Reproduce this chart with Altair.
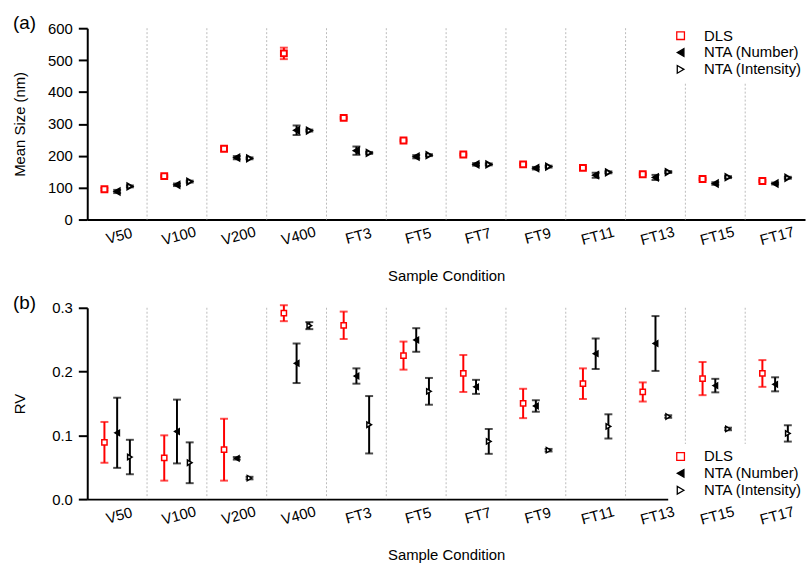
import altair as alt
import pandas as pd

categories = ["V50", "V100", "V200", "V400", "FT3", "FT5", "FT7", "FT9",
              "FT11", "FT13", "FT15", "FT17"]
series = ["DLS", "NTA (Number)", "NTA (Intensity)"]

# Panel (a): mean size (nm) and half error bars
dls_size = [95, 136, 222, 521, 319, 248, 204, 173, 162, 142, 127, 121]
dls_size_err = [4, 3, 6, 18, 3, 3, 3, 3, 3, 3, 3, 3]
num_size = [88, 109, 194, 280, 216, 197, 173, 161, 139, 132, 113, 113]
num_size_err = [5, 4, 5, 15, 13, 5, 4, 4, 8, 8, 4, 3]
int_size = [104, 119, 192, 279, 209, 202, 173, 166, 148, 149, 133, 131]
int_size_err = [3, 3, 3, 3, 3, 3, 3, 3, 3, 3, 3, 3]

# Panel (b): RV and half error bars
dls_rv = [0.089, 0.0645, 0.0775, 0.2915, 0.2725, 0.225, 0.197, 0.150, 0.181, 0.168, 0.189, 0.197]
dls_rv_err = [0.032, 0.0355, 0.0485, 0.0125, 0.0215, 0.022, 0.029, 0.023, 0.024, 0.015, 0.026, 0.021]
num_rv = [0.104, 0.106, 0.064, 0.213, 0.193, 0.2495, 0.176, 0.146, 0.228, 0.244, 0.178, 0.180]
num_rv_err = [0.055, 0.050, 0.002, 0.031, 0.012, 0.0185, 0.011, 0.009, 0.024, 0.043, 0.0106, 0.011]
int_rv = [0.066, 0.057, 0.033, 0.272, 0.1166, 0.169, 0.0905, 0.0767, 0.114, 0.1295, 0.110, 0.103]
int_rv_err = [0.027, 0.032, 0.002, 0.0055, 0.045, 0.021, 0.0195, 0.002, 0.019, 0.002, 0.002, 0.0128]

stroke_colors = ["#ff0000", "#000000", "#000000"]
fill_colors = ["#ffffff", "#000000", "#ffffff"]
shapes = ["square", "triangle-left", "triangle-right"]

W, H = 724, 193
FONT = "Liberation Sans"


def long_df(vals, errs):
    rows = []
    for s, v, e in zip(series, vals, errs):
        for c, vv, ee in zip(categories, v, e):
            rows.append({"cat": c, "series": s, "v": vv, "lo": vv - ee, "hi": vv + ee})
    return pd.DataFrame(rows)


df_a = long_df([dls_size, num_size, int_size], [dls_size_err, num_size_err, int_size_err])
df_b = long_df([dls_rv, num_rv, int_rv], [dls_rv_err, num_rv_err, int_rv_err])
sep_df = pd.DataFrame({"cat": categories[1:]})


def panel(df, ymax, yvals, yfmt, ytitle, tag, leg, msize, mstroke):
    xscale = alt.Scale(domain=categories, paddingInner=0, paddingOuter=0)
    xaxis = alt.Axis(title="Sample Condition", labelAngle=345, ticks=False, tickSize=0,
                     labelAlign="center", labelBaseline="middle", labelPadding=16,
                     labelOffset=2, domainWidth=2, domainColor="black",
                     titleX=W / 2, titleY=49, titleBaseline="top", grid=False)
    x = alt.X("cat:N", sort=categories, scale=xscale, axis=xaxis)
    xo = alt.XOffset("series:N", sort=series,
                     scale=alt.Scale(domain=series, paddingInner=0, paddingOuter=0.85))
    yscale = alt.Scale(domain=[0, ymax], nice=False, zero=True)
    yaxis = alt.Axis(values=yvals, format=yfmt, title=ytitle, tickSize=9, tickWidth=2,
                     tickColor="black", domainWidth=2, domainColor="black",
                     labelPadding=6, grid=False, titleX=-60, titleY=H / 2)
    col = alt.condition(alt.datum.series == "DLS", alt.value("#ff0000"), alt.value("#000000"))

    base = alt.Chart(df)
    sep = alt.Chart(sep_df).mark_rule(color="#bbbbbb", strokeDash=[2, 2], strokeWidth=1).encode(
        x=alt.X("cat:N", sort=categories, scale=xscale, axis=xaxis, bandPosition=0),
        y=alt.value(0), y2=alt.value(H))
    rules = base.mark_rule(strokeWidth=2).encode(
        x=x, xOffset=xo, y=alt.Y("lo:Q", scale=yscale, axis=yaxis), y2="hi:Q", color=col)
    tlo = base.mark_tick(orient="horizontal", size=8, thickness=2).encode(
        x=x, xOffset=xo, y=alt.Y("lo:Q", scale=yscale, axis=yaxis), color=col)
    thi = base.mark_tick(orient="horizontal", size=8, thickness=2).encode(
        x=x, xOffset=xo, y=alt.Y("hi:Q", scale=yscale, axis=yaxis), color=col)
    pts = base.mark_point(size=msize, strokeWidth=mstroke, opacity=1, fillOpacity=1).encode(
        x=x, xOffset=xo, y=alt.Y("v:Q", scale=yscale, axis=yaxis),
        stroke=alt.Stroke("series:N", scale=alt.Scale(domain=series, range=stroke_colors), legend=leg),
        fill=alt.Fill("series:N", scale=alt.Scale(domain=series, range=fill_colors), legend=leg),
        shape=alt.Shape("series:N", scale=alt.Scale(domain=series, range=shapes), legend=leg))
    lab = alt.Chart(pd.DataFrame({"t": [tag]})).mark_text(
        fontSize=19, font=FONT, align="left", baseline="middle", color="black").encode(
        text="t:N", x=alt.value(-75), y=alt.value(-5))
    return alt.layer(sep, rules, tlo, thi, pts, lab).properties(width=W, height=H)


leg_common = dict(title=None, fillColor="white", padding=5, symbolSize=60, symbolStrokeWidth=1.3,
                  labelFontSize=15, labelOffset=16, rowPadding=1, labelFont=FONT, labelColor="black")
leg_a = alt.Legend(orient="none", legendX=586, legendY=-5, **leg_common)
leg_b = alt.Legend(orient="none", legendX=586, legendY=137.5, **leg_common)

top = panel(df_a, 600, [0, 100, 200, 300, 400, 500, 600], "d", "Mean Size (nm)", "(a)", leg_a, 35, 2)
bot = panel(df_b, 0.3, [0, 0.1, 0.2, 0.3], ".1f", "RV", "(b)", leg_b, 28, 1.5)

chart = alt.vconcat(top, bot, spacing=89, bounds="flush").resolve_scale(
    stroke="independent", fill="independent", shape="independent",
    x="independent", y="independent", xOffset="independent"
).properties(
    padding={"left": 13, "top": 12, "right": 0, "bottom": 0}
).configure_view(stroke=None).configure_axis(
    labelFont=FONT, titleFont=FONT, labelFontSize=15, titleFontSize=15,
    labelColor="black", titleColor="black", titleFontWeight="normal"
).configure_legend(labelFont=FONT)

chart.save("out.html", embed_options={"renderer": "svg", "actions": False})
